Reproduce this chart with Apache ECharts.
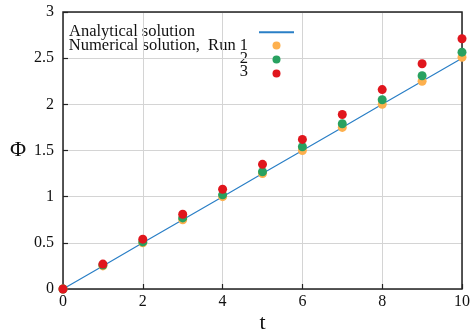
<!DOCTYPE html>
<html>
<head>
<meta charset="utf-8">
<script src="https://cdn.jsdelivr.net/npm/echarts@6/dist/echarts.min.js"></script>
<style>
  html, body {margin: 0; padding: 0; background: #fff;}
  #main {width: 474px; height: 330px;}
</style>
</head>
<body>
<div id="main"></div>
<script>
// t values and Φ for each run
const times = [0, 1, 2, 3, 4, 5, 6, 7, 8, 9, 10];
const analytical = [0, 0.25, 0.5, 0.75, 1.0, 1.25, 1.5, 1.75, 2.0, 2.25, 2.5];
const run1 = [0, 0.25, 0.5, 0.75, 1.0, 1.25, 1.5, 1.75, 2.0, 2.25, 2.51];
const run2 = [0, 0.26, 0.51, 0.77, 1.02, 1.27, 1.54, 1.79, 2.05, 2.31, 2.565];
const run3 = [0, 0.27, 0.54, 0.81, 1.08, 1.35, 1.62, 1.89, 2.16, 2.44, 2.71];
const seriesNames = ['Analytical solution', 'Numerical solution,  Run 1', '2', '3'];

const font = '"Liberation Serif", "DejaVu Serif", serif';
const pairs = arr => times.map((t, i) => [t, arr[i]]);

const chart = echarts.init(document.getElementById('main'));

const dots = (name, data, color) => ({
  name: name,
  type: 'scatter',
  data: pairs(data),
  symbol: 'circle',
  symbolSize: 9,
  clip: false,
  itemStyle: {color: color, opacity: 1},
  z: 3
});

const keyText = (text, x, y, align) => ({
  type: 'text',
  x: x,
  y: y,
  style: {text: text, font: '16.5px ' + font, fill: '#111', textAlign: align, textVerticalAlign: 'top'}
});

chart.setOption({
  animation: false,
  grid: {
    left: 63, right: 12, top: 12, bottom: 41,
    outerBoundsMode: 'none', containLabel: false,
    show: true, borderColor: '#222', borderWidth: 1.5, z: 1
  },
  legend: {
    orient: 'vertical',
    left: 258,
    top: 29,
    padding: 0,
    itemWidth: 35,
    itemHeight: 8,
    itemGap: 6,
    formatter: ' ',
    textStyle: {fontSize: 4, color: 'rgba(0,0,0,0)'},
    selectedMode: false,
    data: [
      {name: seriesNames[0], itemStyle: {opacity: 0}},
      seriesNames[1], seriesNames[2], seriesNames[3]
    ]
  },
  graphic: [
    keyText('Analytical solution', 69, 23, 'left'),
    keyText('Numerical solution,  Run 1', 248, 37, 'right'),
    keyText('2', 248, 50, 'right'),
    keyText('3', 248, 63, 'right')
  ],
  xAxis: {
    type: 'value',
    min: 0,
    max: 10,
    interval: 2,
    name: 't',
    nameLocation: 'middle',
    nameMoveOverlap: false,
    nameGap: 23,
    nameTextStyle: {fontFamily: font, fontSize: 22, color: '#111'},
    axisLine: {show: false},
    axisTick: {show: true, inside: true, length: 5, lineStyle: {color: '#222', width: 1.2}},
    axisLabel: {fontFamily: font, fontSize: 16, color: '#111', margin: 5},
    splitLine: {show: true, lineStyle: {color: '#d4d4d4', width: 1}}
  },
  yAxis: {
    type: 'value',
    min: 0,
    max: 3,
    interval: 0.5,
    name: 'Φ',
    nameLocation: 'middle',
    nameMoveOverlap: false,
    nameGap: 37,
    nameRotate: 0,
    nameTextStyle: {fontFamily: font, fontSize: 22, color: '#111'},
    axisLine: {show: false},
    axisTick: {show: true, inside: true, length: 5, lineStyle: {color: '#222', width: 1.2}},
    axisLabel: {fontFamily: font, fontSize: 16, color: '#111', margin: 9},
    splitLine: {show: true, lineStyle: {color: '#d4d4d4', width: 1}}
  },
  series: [
    {
      name: seriesNames[0],
      type: 'line',
      data: pairs(analytical),
      showSymbol: false,
      symbol: 'none',
      lineStyle: {color: '#2a7fc6', width: 1.2},
      itemStyle: {color: '#2a7fc6'},
      z: 2
    },
    dots(seriesNames[1], run1, '#fdb04e'),
    dots(seriesNames[2], run2, '#28a160'),
    dots(seriesNames[3], run3, '#e0161d')
  ]
});
</script>
</body>
</html>
